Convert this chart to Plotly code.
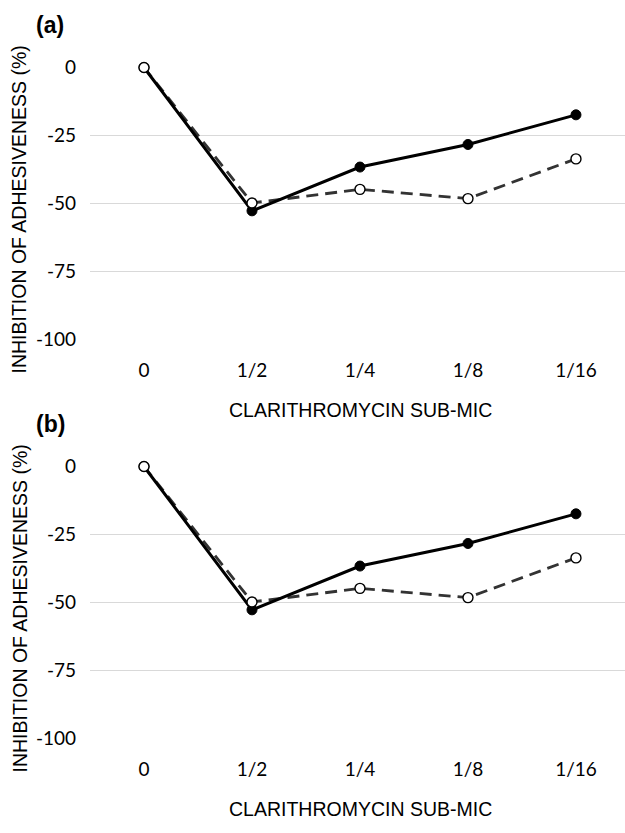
import plotly.graph_objects as go

categories = ["0", "1/2", "1/4", "1/8", "1/16"]
solid_values = [0, -52.7, -36.6, -28.3, -17.4]
dashed_values = [0, -49.8, -44.8, -48.2, -33.6]
y_tickvals = [0, -25, -50, -75, -100]
y_ticktext = ["0", "-25", "-50", "-75", "-100"]
panel_labels = ["(a)", "(b)"]
x_title = "CLARITHROMYCIN SUB-MIC"
y_title = "INHIBITION OF ADHESIVENESS (%)"

W, H = 625, 833
fig = go.Figure()

TICKFONT = dict(family="Lato, Open Sans, sans-serif", size=19, color="#000")
TITLEFONT = dict(family="Liberation Sans, Arial, sans-serif", size=19.5, color="#000")

# pixel layout of each panel: (top, bottom) of plot area
panels = [(67.5, 339.5), (466.5, 738.5)]
x_left, x_right = 90, 625

for i, (top, bot) in enumerate(panels):
    sfx = "" if i == 0 else str(i + 1)
    xa, ya = "x" + sfx, "y" + sfx
    fig.add_trace(go.Scatter(
        x=categories, y=dashed_values, xaxis=xa, yaxis=ya, mode="lines",
        line=dict(color="#333333", width=2.8, dash="12px,7px"),
        cliponaxis=False, showlegend=False, hoverinfo="skip"))
    fig.add_trace(go.Scatter(
        x=categories, y=solid_values, xaxis=xa, yaxis=ya, mode="lines+markers",
        line=dict(color="#000000", width=3),
        marker=dict(symbol="circle", size=10, color="#000", line=dict(color="#000", width=1)),
        cliponaxis=False, showlegend=False))
    fig.add_trace(go.Scatter(
        x=categories, y=dashed_values, xaxis=xa, yaxis=ya, mode="markers",
        marker=dict(symbol="circle", size=10, color="white", line=dict(color="#000", width=1.4)),
        cliponaxis=False, showlegend=False))

    ydom = [1 - bot / H, 1 - top / H]
    fig.layout["xaxis" + sfx] = dict(
        domain=[x_left / W, x_right / W], range=[-0.5, 4.454],
        type="category", anchor=ya, showgrid=False, zeroline=False, showline=False,
        ticks="", tickfont=TICKFONT, ticklabelstandoff=17, fixedrange=True,
        automargin=False)
    fig.layout["yaxis" + sfx] = dict(
        domain=ydom, range=[-100, 0], anchor=xa,
        tickvals=y_tickvals, ticktext=y_ticktext,
        showgrid=True, gridcolor="#d9d9d9", gridwidth=1.2,
        zeroline=False, showline=False, ticks="", tickfont=TICKFONT,
        ticklabelstandoff=13, fixedrange=True, automargin=False)

    # axis titles & panel label
    fig.add_annotation(text=x_title, xref="paper", yref="paper",
                       x=360 / W, y=1 - (bot + 70) / H, showarrow=False,
                       font=TITLEFONT, xanchor="center", yanchor="middle")
    fig.add_annotation(text=y_title, xref="paper", yref="paper",
                       x=19 / W, y=1 - ((top + bot) / 2 + 6) / H, showarrow=False,
                       font=TITLEFONT, textangle=-90, xanchor="center", yanchor="middle")
    fig.add_annotation(text="<b>" + panel_labels[i] + "</b>", xref="paper", yref="paper",
                       x=34 / W, y=1 - (top - 43) / H, showarrow=False,
                       font=dict(family="Liberation Sans, Arial, sans-serif", size=23, color="#000"),
                       xanchor="left", yanchor="middle")

fig.update_layout(width=W, height=H, margin=dict(l=0, r=0, t=0, b=0),
                  plot_bgcolor="white", paper_bgcolor="white", template="none")

fig.write_html("out.html", config={"displayModeBar": False},
               post_script="document.body.style.margin='0';")
